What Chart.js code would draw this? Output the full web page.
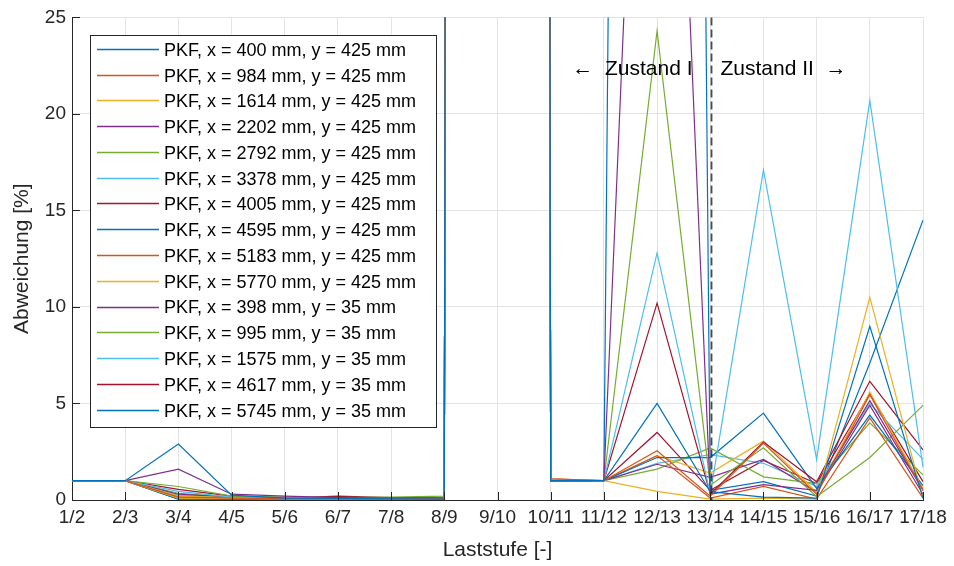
<!DOCTYPE html>
<html>
<head>
<meta charset="utf-8">
<title>Abweichung je Laststufe</title>
<script src="https://cdn.jsdelivr.net/npm/chart.js"></script>
<style>
  body { margin: 0; background: #fff; }
  canvas { display: block; }
</style>
</head>
<body>
<canvas id="abweichung" width="954" height="566"></canvas>
<script>

// Laststufen (x axis) and y ticks
var laststufen = ['1/2','2/3','3/4','4/5','5/6','6/7','7/8','8/9','9/10','10/11','11/12','12/13','13/14','14/15','15/16','16/17','17/18'];
var yTicks = [0, 5, 10, 15, 20, 25];

// Abweichung [%] per measuring point, one value per Laststufe
// (9/10 is practically a division by zero, so the values shoot out of the plot)
var pkf_400_425  = [1.0, 1.0, 2.9,  0.25, 0.1,  0.08, 0.06, 0.05, 18000, 1.0,  1.0, 5.0,  0.43, 0.15, 0.1,  9.0,  0.1];
var pkf_984_425  = [1.0, 1.0, 0.15, 0.1,  0.07, 0.05, 0.05, 0.04, 15000, 1.1,  1.0, 2.55, 0.2,  2.95, 0.3,  5.45, 0.5];
var pkf_1614_425 = [1.0, 1.0, 0.1,  0.08, 0.06, 0.05, 0.04, 0.04, 16000, 1.05, 1.0, 0.45, 0.05, 0.1,  0.05, 10.5, 0.1];
var pkf_2202_425 = [1.0, 1.0, 1.6,  0.3,  0.2,  0.12, 0.1,  0.08, 22000, 1.0,  1.0, 65,   0.3,  0.8,  0.5,  5.15, 0.5];
var pkf_2792_425 = [1.0, 1.0, 0.7,  0.2,  0.15, 0.12, 0.15, 0.2,  20000, 1.0,  1.0, 24.3, 0.77, 2.7,  0.17, 2.2,  4.9];
var pkf_3378_425 = [1.0, 1.0, 0.45, 0.15, 0.1,  0.08, 0.06, 0.05, 17000, 1.0,  1.0, 12.8, 0.3,  17.1, 2.1,  20.7, 1.7];
var pkf_4005_425 = [1.0, 1.0, 0.55, 0.2,  0.1,  0.2,  0.12, 0.1,  19000, 1.0,  1.0, 10.2, 0.3,  3.0,  0.94, 6.15, 2.6];
var pkf_4595_425 = [1.0, 1.0, 0.05, 0.05, 0.04, 0.03, 0.03, 0.03, 14000, 1.0,  1.0, 2.2,  2.2,  4.5,  0.6,  4.4,  0.75];
var pkf_5183_425 = [1.0, 1.0, 0.1,  0.1,  0.06, 0.05, 0.05, 0.05, 13000, 1.1,  1.0, 2.3,  0.1,  0.7,  0.05, 4.25, 0.1];
var pkf_5770_425 = [1.0, 1.0, 0.2,  0.12, 0.08, 0.06, 0.05, 0.05, 12000, 1.05, 1.0, 2.3,  1.4,  3.05, 0.4,  5.6,  0.6];
var pkf_398_35   = [1.0, 1.0, 0.3,  0.15, 0.1,  0.08, 0.07, 0.06, 11000, 1.0,  1.0, 1.85, 1.17, 2.1,  0.4,  4.9,  0.3];
var pkf_995_35   = [1.0, 1.0, 0.35, 0.15, 0.12, 0.1,  0.1,  0.12, 10000, 1.0,  1.0, 1.6,  2.7,  1.2,  0.85, 4.0,  1.3];
var pkf_1575_35  = [1.0, 1.0, 0.25, 0.12, 0.08, 0.07, 0.06, 0.05, 9000,  1.0,  1.0, 1.9,  2.35, 1.9,  0.7,  5.0,  2.1];
var pkf_4617_35  = [1.0, 1.0, 0.2,  0.15, 0.1,  0.15, 0.1,  0.08, 8000,  1.0,  1.0, 3.5,  0.5,  2.05, 0.85, 5.5,  0.95];
var pkf_5745_35  = [1.0, 1.0, 0.05, 0.04, 0.03, 0.03, 0.03, 0.03, 25000, 1.0,  1.0, 300,  0.5,  0.95, 0.2,  7.1,  14.5];

var seriesNames = [
  'PKF, x = 400 mm, y = 425 mm',
  'PKF, x = 984 mm, y = 425 mm',
  'PKF, x = 1614 mm, y = 425 mm',
  'PKF, x = 2202 mm, y = 425 mm',
  'PKF, x = 2792 mm, y = 425 mm',
  'PKF, x = 3378 mm, y = 425 mm',
  'PKF, x = 4005 mm, y = 425 mm',
  'PKF, x = 4595 mm, y = 425 mm',
  'PKF, x = 5183 mm, y = 425 mm',
  'PKF, x = 5770 mm, y = 425 mm',
  'PKF, x = 398 mm, y = 35 mm',
  'PKF, x = 995 mm, y = 35 mm',
  'PKF, x = 1575 mm, y = 35 mm',
  'PKF, x = 4617 mm, y = 35 mm',
  'PKF, x = 5745 mm, y = 35 mm'
];
var seriesValues = [pkf_400_425, pkf_984_425, pkf_1614_425, pkf_2202_425, pkf_2792_425,
  pkf_3378_425, pkf_4005_425, pkf_4595_425, pkf_5183_425, pkf_5770_425,
  pkf_398_35, pkf_995_35, pkf_1575_35, pkf_4617_35, pkf_5745_35];

// matlab default colour order
var lineColors = ['#0072BD','#D95319','#EDB120','#7E2F8E','#77AC30','#4DBEEE','#A2142F'];

// Zustand I / Zustand II boundary
var zustandGrenze = '13/14';
var zustandTextHoehe = 22.3;
var zustandLinks = '\u2190  Zustand I';
var zustandRechts = 'Zustand II  \u2192';

var axisColor = '#262626';
var fontFamily = '"Liberation Sans", Arial, Helvetica, sans-serif';
Chart.defaults.font.family = fontFamily;

var datasets = [];
seriesValues.forEach(function(values, i) {
  datasets.push({
    label: seriesNames[i],
    data: values,
    borderColor: lineColors[i % lineColors.length],
    backgroundColor: lineColors[i % lineColors.length],
    borderWidth: 1.2,
    pointRadius: 0,
    tension: 0,
    fill: false
  });
});

// boundary line + the two labels
var zustandPlugin = {
  id: 'zustand',
  afterDatasetsDraw: function(chart) {
    var ctx = chart.ctx;
    var area = chart.chartArea;
    var x = Math.round(chart.scales.x.getPixelForValue(laststufen.indexOf(zustandGrenze))) + 1.5;
    var y = chart.scales.y.getPixelForValue(zustandTextHoehe);
    ctx.save();
    ctx.strokeStyle = 'rgba(30,30,30,0.8)';
    ctx.lineWidth = 1.8;
    ctx.setLineDash([8, 4]);
    ctx.beginPath();
    ctx.moveTo(x, area.top);
    ctx.lineTo(x, area.bottom);
    ctx.stroke();
    ctx.setLineDash([]);
    ctx.fillStyle = '#000';
    ctx.font = '21px ' + fontFamily;
    ctx.textBaseline = 'middle';
    ctx.textAlign = 'right';
    ctx.fillText(zustandLinks, x - 19, y);
    ctx.textAlign = 'left';
    ctx.fillText(zustandRechts, x + 9, y);
    ctx.restore();
  }
};

// matlab style ticks pointing into the axes
var innerTicksPlugin = {
  id: 'innerTicks',
  afterDraw: function(chart) {
    var ctx = chart.ctx;
    var area = chart.chartArea;
    ctx.save();
    ctx.strokeStyle = axisColor;
    ctx.lineWidth = 1;
    ctx.beginPath();
    laststufen.forEach(function(l, i) {
      var px = Math.round(chart.scales.x.getPixelForValue(i)) + 0.5;
      ctx.moveTo(px, area.bottom);
      ctx.lineTo(px, area.bottom - 8);
    });
    yTicks.forEach(function(t) {
      var py = Math.round(chart.scales.y.getPixelForValue(t)) + 0.5;
      ctx.moveTo(area.left, py);
      ctx.lineTo(area.left + 8, py);
    });
    ctx.stroke();
    ctx.restore();
  }
};

// legend box in the upper left corner of the axes
var boxLegendPlugin = {
  id: 'boxLegend',
  afterDraw: function(chart) {
    var ctx = chart.ctx;
    var area = chart.chartArea;
    var rowHeight = 25.76;
    var left = area.left + 18;
    var top = area.top + 17.5;
    ctx.save();
    ctx.font = '18px ' + fontFamily;
    var maxWidth = 0;
    chart.data.datasets.forEach(function(ds) {
      maxWidth = Math.max(maxWidth, ctx.measureText(ds.label).width);
    });
    var width = 74 + maxWidth + 20;
    var height = 16 + (chart.data.datasets.length - 1) * rowHeight + 15;
    ctx.fillStyle = '#fff';
    ctx.fillRect(left, top, width, height);
    ctx.strokeStyle = axisColor;
    ctx.lineWidth = 1;
    ctx.strokeRect(Math.round(left) + 0.5, Math.round(top) + 0.5, Math.round(width), Math.round(height));
    ctx.textBaseline = 'middle';
    ctx.textAlign = 'left';
    chart.data.datasets.forEach(function(ds, i) {
      var cy = top + 16 + i * rowHeight;
      ctx.strokeStyle = ds.borderColor;
      ctx.lineWidth = 1.3;
      ctx.beginPath();
      ctx.moveTo(left + 7, Math.round(cy - 2) + 0.5);
      ctx.lineTo(left + 69, Math.round(cy - 2) + 0.5);
      ctx.stroke();
      ctx.fillStyle = '#000';
      ctx.fillText(ds.label, left + 74, cy);
    });
    ctx.restore();
  }
};

var ctx = document.getElementById('abweichung');
var abweichungChart = new Chart(ctx, {
  type: 'line',
  data: {
    labels: laststufen,
    datasets: datasets
  },
  plugins: [zustandPlugin, innerTicksPlugin, boxLegendPlugin],
  options: {
    responsive: false,
    animation: false,
    layout: { padding: { top: 14, right: 31, left: 0, bottom: 0 } },
    plugins: {
      legend: { display: false },
      tooltip: { enabled: false }
    },
    scales: {
      x: {
        offset: false,
        grid: { color: '#e3e3e3', drawTicks: false },
        border: { color: axisColor, width: 1 },
        ticks: { color: axisColor, font: { size: 19 }, padding: 6, autoSkip: false, maxRotation: 0 },
        title: { display: true, text: 'Laststufe [-]', color: axisColor, font: { size: 21 }, padding: { top: 0, bottom: 3 } },
        afterFit: function(scale) { scale.height = 66; }
      },
      y: {
        min: yTicks[0],
        max: yTicks[yTicks.length - 1],
        grid: { color: '#e3e3e3', drawTicks: false },
        border: { color: axisColor, width: 1 },
        ticks: { color: axisColor, font: { size: 19 }, padding: 6, stepSize: 5 },
        title: { display: true, text: 'Abweichung [%]', color: axisColor, font: { size: 21 }, padding: { top: 10, bottom: 0 } },
        afterFit: function(scale) { scale.width = 72; }
      }
    }
  }
});

</script>
</body>
</html>
